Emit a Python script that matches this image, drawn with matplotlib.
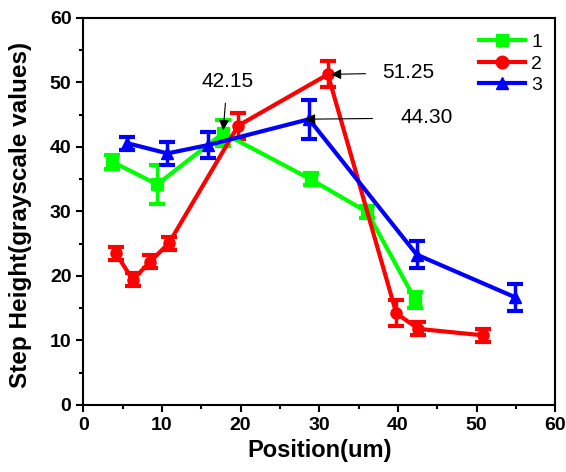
import matplotlib
matplotlib.use('Agg')
import matplotlib.pyplot as plt
from matplotlib.lines import Line2D
from matplotlib.ticker import MultipleLocator

plt.rcParams['font.family'] = ['Liberation Sans', 'DejaVu Sans']

# series 1 (green squares)
x1 = [3.7, 9.4, 17.8, 28.9, 36.1, 42.2]
y1 = [37.7, 34.2, 42.15, 35.0, 29.9, 16.3]
e1 = [1.1, 3.0, 2.0, 0.9, 0.9, 1.2]

# series 2 (red circles)
x2 = [4.15, 6.3, 8.5, 10.9, 19.7, 31.1, 39.8, 42.6, 50.8]
y2 = [23.5, 19.4, 22.2, 25.1, 43.3, 51.25, 14.2, 11.8, 10.8]
e2 = [1.0, 1.0, 1.0, 1.0, 2.0, 2.0, 2.0, 1.0, 1.0]

# series 3 (blue triangles)
x3 = [5.55, 10.7, 15.9, 28.7, 42.4, 54.9]
y3 = [40.6, 39.0, 40.3, 44.30, 23.3, 16.7]
e3 = [1.0, 1.8, 2.0, 3.0, 2.1, 2.1]

labels = ['1', '2', '3']

fig = plt.figure(figsize=(5.66, 4.72), dpi=100)
ax = fig.add_axes([0.147, 0.142, 0.834, 0.820])

styles = [(x1, y1, e1, '#00ff00', 's'),
          (x2, y2, e2, '#ff0000', 'o'),
          (x3, y3, e3, '#0000ff', '^')]
handles = []
for (x, y, e, c, m), lab in zip(styles, labels):
    ax.errorbar(x, y, yerr=e, color=c, marker=m, markersize=8, lw=3,
                elinewidth=2.5, capsize=6, capthick=3)
    handles.append(Line2D([], [], color=c, marker=m, markersize=9, lw=3, label=lab))

ax.annotate('42.15', xy=(17.8, 42.6), xytext=(18.3, 50.2), fontsize=15,
            ha='center', va='center',
            arrowprops=dict(arrowstyle='-|>', color='black', lw=0.8, shrinkA=7, shrinkB=0))
ax.annotate('51.25', xy=(31.5, 51.25), xytext=(38.0, 51.5), fontsize=15,
            ha='left', va='center',
            arrowprops=dict(arrowstyle='-|>', color='black', lw=0.8, shrinkA=10, shrinkB=0))
ax.annotate('44.30', xy=(28.2, 44.3), xytext=(40.3, 44.5), fontsize=15,
            ha='left', va='center',
            arrowprops=dict(arrowstyle='-|>', color='black', lw=0.8, shrinkA=18, shrinkB=0))

ax.set_xlim(0, 60)
ax.set_ylim(0, 60)
ax.xaxis.set_major_locator(MultipleLocator(10))
ax.xaxis.set_minor_locator(MultipleLocator(5))
ax.yaxis.set_major_locator(MultipleLocator(10))
ax.yaxis.set_minor_locator(MultipleLocator(5))
ax.tick_params(which='major', direction='out', length=5, width=1.5, labelsize=14)
ax.tick_params(which='minor', direction='out', length=3, width=1.5)
for lab in ax.get_xticklabels() + ax.get_yticklabels():
    lab.set_fontweight('bold')
for sp in ax.spines.values():
    sp.set_linewidth(1.5)

ax.set_xlabel('Position(um)', fontsize=17, fontweight='bold', labelpad=4)
ax.set_ylabel('Step Height(grayscale values)', fontsize=17.5, fontweight='bold')
ax.yaxis.set_label_coords(-0.108, 0.49)

ax.legend(handles=handles, loc='upper right', frameon=False, fontsize=14,
          handlelength=2.4, handletextpad=0.3, labelspacing=0.2,
          borderaxespad=0.4, bbox_to_anchor=(1.005, 1.0))

fig.savefig('out.png', dpi=100)
